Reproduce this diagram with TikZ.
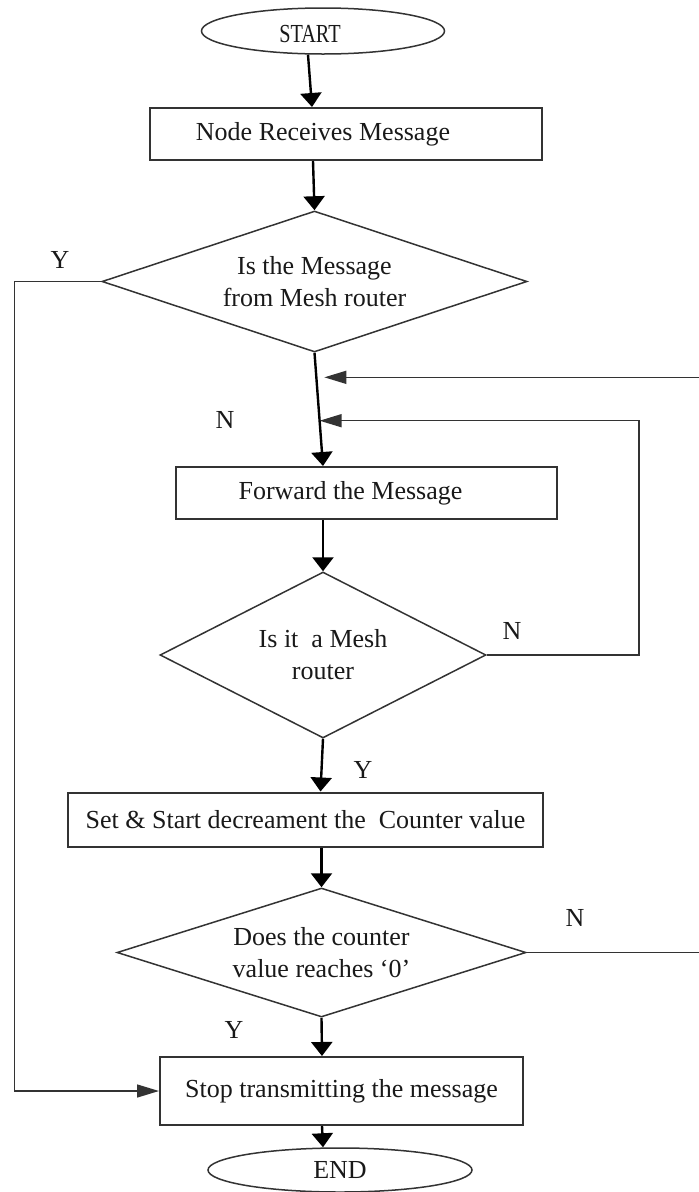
\documentclass[tikz,border=0pt]{standalone}
\usepackage{graphicx}
\usepackage{fontspec}
\setmainfont{Liberation Serif}
\usetikzlibrary{shapes.geometric,arrows.meta,calc}

\begin{document}
\begin{tikzpicture}[x=1pt,y=-1pt]

\tikzset{
  every node/.style={font=\fontsize{26}{32}\selectfont, text=black!90},
  term/.style={draw=black!80, line width=1.5pt, ellipse, inner sep=0pt},
  proc/.style={draw=black!80, line width=2pt, rectangle, inner sep=0pt},
  test/.style={draw=black!80, line width=1.5pt, diamond, inner sep=0pt, align=center},
  flow/.style={draw=black, line width=2.4pt, -{Triangle[width=21pt,length=14pt]}},
  back/.style={draw=black!80, line width=1.5pt, -{Triangle[width=13pt,length=22pt]}}
}

\useasboundingbox (0,0) rectangle (699,1192);

\node[term, minimum width=243pt, minimum height=46pt, label={[xshift=-13pt,yshift=-3pt]center:\scalebox{0.78}[1]{START}}] (T_1) at (323,31) {};
\node[proc, minimum width=392pt, minimum height=52pt, label={[xshift=-23pt]center:Node Receives Message}] (B_1) at (346,134) {};
\node[test, aspect=3, minimum width=425pt, minimum height=141pt] (D_1) at (314.5,281.5) {Is the Message\\from Mesh router};
\node[proc, minimum width=381pt, minimum height=52pt, label={[xshift=-16pt]center:Forward the Message}] (B_2) at (366.5,493) {};
\node[test, aspect=2, minimum width=326pt, minimum height=166pt] (D_2) at (323,655) {Is it\ \ a Mesh\\router};
\node[proc, minimum width=475pt, minimum height=54pt] (B_3) at (305.5,819.5) {Set \& Start decreament the\ \ Counter value};
\node[test, aspect=3.2, minimum width=409pt, minimum height=129pt] (D_3) at (321.5,952.5) {Does the counter\\value reaches ‘0’};
\node[proc, minimum width=363pt, minimum height=68pt] (B_4) at (341.5,1091) {Stop transmitting the message};
\node[term, minimum width=264pt, minimum height=44pt] (T_2) at (340,1170) {END};

\node (Y_1) at (60,260) {Y};
\node (N_1) at (225,420) {N};
\node (N_2) at (512,631) {N};
\node (Y_2) at (363,770) {Y};
\node (N_3) at (575,918) {N};
\node (Y_3) at (234,1030) {Y};

\coordinate (F_in) at ([xshift=-43.5pt]B_2.north);
\coordinate (J_1) at ($(D_1.south)!0.217!(F_in)$);
\coordinate (J_2) at ($(D_1.south)!0.6!(F_in)$);

\draw[flow] ([xshift=-15pt]T_1.south) -- ([xshift=-34pt]B_1.north);
\draw[flow] ([xshift=-33pt]B_1.south) -- (D_1.north);
\draw[flow] (D_1.south) -- (F_in);
\draw[flow] ([xshift=-43.5pt]B_2.south) -- (D_2.north);
\draw[flow] (D_2.south) -- ([xshift=15pt]B_3.north);
\draw[flow] ([xshift=16pt]B_3.south) -- (D_3.north);
\draw[flow] (D_3.south) -- ([xshift=-19.5pt]B_4.north);
\draw[flow] ([xshift=-19.5pt]B_4.south) -- ([xshift=-17pt]T_2.north);

\draw[back] (D_2.east) -- ++(152,0) |- (J_2);
\draw[back] (D_3.east) -- ++(176,0) |- ([xshift=8pt]J_1);
\draw[back] (D_1.west) -- ++(-87,0) |- (B_4.west);

\end{tikzpicture}
\end{document}
